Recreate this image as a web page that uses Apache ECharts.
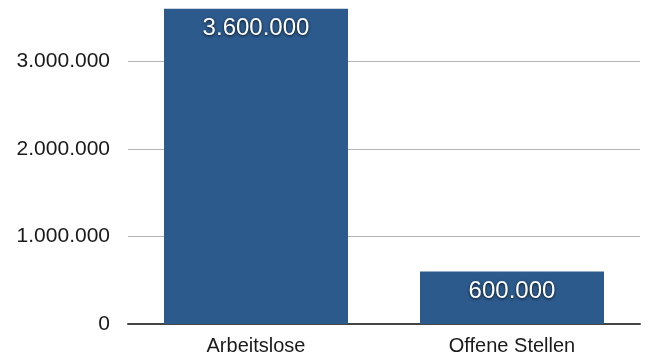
<!DOCTYPE html>
<html>
<head>
<meta charset="utf-8">
<script src="https://cdn.jsdelivr.net/npm/echarts@6/dist/echarts.min.js"></script>
<style>
  html, body { margin: 0; padding: 0; background: #fff; }
  #chart { width: 648px; height: 356px; }
</style>
</head>
<body>
<div id="chart"></div>
<script>
var categories = ['Arbeitslose', 'Offene Stellen'];
var values = [3600000, 600000];

// Tausenderpunkte wie im Original
function fmt(v) {
    return String(v).replace(/\B(?=(\d{3})+(?!\d))/g, '.');
}

var myChart = echarts.init(document.getElementById('chart'));
var option = {
    animation: false,
    grid: {
        left: 128,
        right: 8,
        top: 0,
        bottom: 31
    },
    xAxis: {
        type: 'category',
        data: categories,
        axisTick: { show: false },
        axisLine: { lineStyle: { color: '#444', width: 2 } },
        axisLabel: {
            color: '#1a1a1a',
            fontSize: 20,
            fontFamily: 'Liberation Sans',
            margin: 12
        }
    },
    yAxis: {
        type: 'value',
        min: 0,
        max: 3700000,
        interval: 1000000,
        axisLine: { show: false },
        axisTick: { show: false },
        axisLabel: {
            color: '#1a1a1a',
            fontSize: 21,
            fontFamily: 'Liberation Sans',
            margin: 18,
            formatter: function (v) {
                return v % 1000000 === 0 ? fmt(v) : '';
            }
        },
        splitLine: {
            showMaxLine: false,
            lineStyle: { color: '#b4b4b4', width: 1 }
        }
    },
    series: [
        {
            type: 'bar',
            data: values,
            barWidth: 184,
            itemStyle: { color: '#2c5a8d' },
            label: {
                show: true,
                position: 'insideTop',
                distance: 8,
                color: '#fff',
                fontSize: 24,
                fontFamily: 'Liberation Sans',
                textShadowColor: 'rgba(0,0,0,0.8)',
                textShadowBlur: 3,
                textShadowOffsetY: 1,
                formatter: function (p) { return fmt(p.value); }
            }
        }
    ]
};
myChart.setOption(option);
</script>
</body>
</html>
